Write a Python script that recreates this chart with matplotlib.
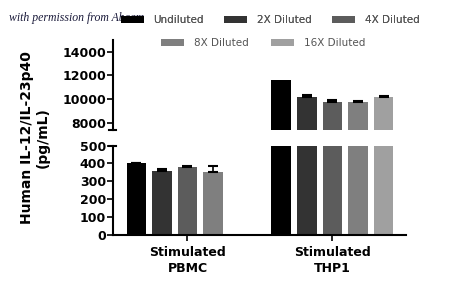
import numpy as np
import matplotlib.pyplot as plt
from matplotlib.patches import Patch

# data
groups = ["Stimulated\nPBMC", "Stimulated\nTHP1"]
dilutions = ["Undiluted", "2X Diluted", "4X Diluted", "8X Diluted", "16X Diluted"]
colors = ["#000000", "#333333", "#5c5c5c", "#7f7f7f", "#a0a0a0"]
pbmc_vals = [402, 358, 381, 352]
pbmc_err = [3, 12, 4, 33]
thp1_vals = [11600, 10220, 9760, 9720, 10150]
thp1_err = [0, 160, 150, 130, 80]
top_ticks = [8000, 10000, 12000, 14000]
bottom_ticks = [0, 100, 200, 300, 400, 500]

plt.rcParams['font.family'] = ['DejaVu Sans']

fig = plt.figure(figsize=(4.5, 2.98), dpi=100)
ax_top = fig.add_axes([0.251, 0.564, 0.651, 0.302])
ax_bot = fig.add_axes([0.251, 0.213, 0.651, 0.298])

step = 0.1766
width = 0.134
series = [(0, pbmc_vals, pbmc_err), (1, thp1_vals, thp1_err)]

for ax in (ax_top, ax_bot):
    for gi, vals, errs in series:
        for j, (v, e) in enumerate(zip(vals, errs)):
            x = gi + (j - 2) * step
            ax.bar(x, v, width=width, color=colors[j], edgecolor='none', zorder=2)
            if e > 0:
                ax.errorbar(x, v, yerr=[[0], [e]], fmt='none', ecolor='black',
                            elinewidth=1.2, capsize=3.5, capthick=1.5, zorder=3)
    ax.set_xlim(-0.514, 1.507)
    for s in ('top', 'right'):
        ax.spines[s].set_visible(False)
    ax.spines['left'].set_linewidth(1.5)
    ax.tick_params(axis='y', length=4, width=1.2, labelsize=9, pad=1)

ax_top.set_ylim(7400, 15000)
ax_top.set_yticks(top_ticks)
ax_top.set_yticklabels([str(t) for t in top_ticks], fontweight='bold', fontsize=9)
ax_top.spines['bottom'].set_visible(False)
ax_top.set_xticks([])

ax_bot.set_ylim(0, 500)
ax_bot.set_yticks(bottom_ticks)
ax_bot.set_yticklabels([str(t) for t in bottom_ticks], fontweight='bold', fontsize=9)
ax_bot.spines['bottom'].set_linewidth(1.5)
ax_bot.set_xticks([0, 1])
ax_bot.set_xticklabels(groups, fontweight='bold', fontsize=9, linespacing=1.3)
ax_bot.tick_params(axis='x', length=4, width=1.2, pad=4)

# break marks
ax_top.plot([-0.54, -0.49], [7400, 7400], color='black', lw=1.5, clip_on=False)
ax_bot.plot([-0.54, -0.49], [500, 500], color='black', lw=1.5, clip_on=False)

fig.text(0.078, 0.54, "Human IL-12/IL-23p40\n(pg/mL)", rotation=90, ha='center',
         va='center', fontsize=10, fontweight='bold', linespacing=1.2)

handles = [Patch(facecolor=c, edgecolor='none') for c in colors]
leg1 = fig.legend(handles[:3], dilutions[:3], loc='center', bbox_to_anchor=(0.6, 0.933),
                  ncol=3, frameon=False, fontsize=7.5, handlelength=2.2, handleheight=0.6,
                  columnspacing=2.0, handletextpad=0.9, labelcolor='#555555')
leg2 = fig.legend(handles[3:], dilutions[3:], loc='center', bbox_to_anchor=(0.585, 0.855),
                  ncol=2, frameon=False, fontsize=7.5, handlelength=2.2, handleheight=0.6,
                  columnspacing=2.2, handletextpad=0.9, labelcolor='#555555')
fig.add_artist(leg1)

fig.text(0.02, 0.94, "with permission from Abcam", fontsize=8.5, style='italic',
         family='Liberation Serif', color='#1a1a3a', va='center')

fig.savefig("out.png", dpi=100)
